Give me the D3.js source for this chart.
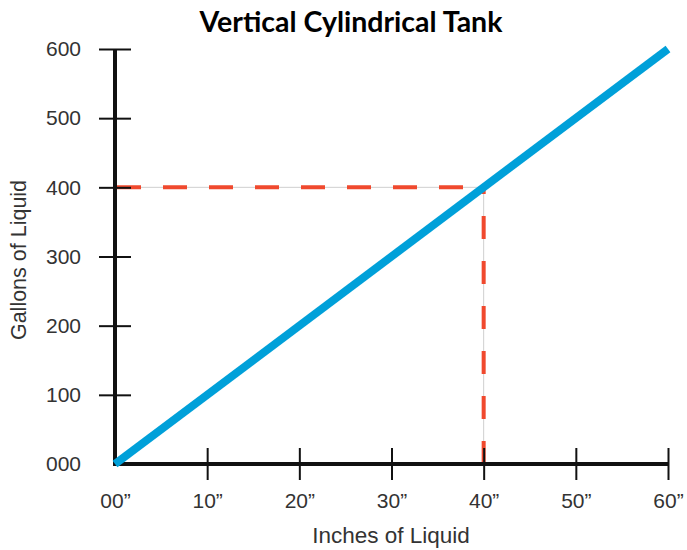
<html>
<head>
<style>
body { margin: 0; background: #fff; }
svg { display: block; }
.tick text { font-family: 'Liberation Sans', Arial, sans-serif; fill: #333; }
</style>
</head>
<body>
<svg width="687" height="550"></svg>
<script src="https://cdn.jsdelivr.net/npm/d3@7"></script>
<script>
// chart values
const xTicks = [0, 10, 20, 30, 40, 50, 60];
const xTickLabels = ["00\u201d", "10\u201d", "20\u201d", "30\u201d", "40\u201d", "50\u201d", "60\u201d"];
const yTicks = [0, 100, 200, 300, 400, 500, 600];
const yTickLabels = ["000", "100", "200", "300", "400", "500", "600"];
const lineInches = [0, 60];
const lineGallons = [0, 600];
const refInches = 40;
const refGallons = 400;

const svg = d3.select("svg");

const x = d3.scaleLinear().domain([0, 60]).range([115, 668]);
const y = d3.scaleLinear().domain([0, 600]).range([464, 49]);

// title
svg.append("text")
	.attr("x", 351).attr("y", 32)
	.attr("text-anchor", "middle")
	.style("font-family", "Lato, 'Open Sans', sans-serif")
	.style("font-weight", "bold")
	.style("font-size", "28.5px")
	.text("Vertical Cylindrical Tank");

// reference guide: thin grey line under red dashes
const guide = [[0, refGallons], [refInches, refGallons], [refInches, 0]];
svg.append("path")
	.attr("d", d3.line().x(d => x(d[0])).y(d => y(d[1]))(guide))
	.attr("fill", "none")
	.attr("stroke", "#cfcfcf")
	.attr("stroke-width", 1);

svg.append("line")
	.attr("x1", x(0) + 2).attr("x2", x(refInches))
	.attr("y1", y(refGallons)).attr("y2", y(refGallons))
	.attr("stroke", "#f0492e")
	.attr("stroke-width", 4)
	.attr("stroke-dasharray", "24,22");

svg.append("line")
	.attr("x1", x(refInches)).attr("x2", x(refInches))
	.attr("y1", y(0)).attr("y2", y(refGallons))
	.attr("stroke", "#f0492e")
	.attr("stroke-width", 4)
	.attr("stroke-dasharray", "23,22");

// y axis
const yAxis = svg.append("g")
	.attr("transform", "translate(" + x(0) + ",0)")
	.call(d3.axisLeft(y).tickValues(yTicks).tickFormat((d, i) => yTickLabels[i]).tickSize(16));
yAxis.select(".domain").remove();
yAxis.selectAll(".tick line")
	.attr("x1", -16).attr("x2", 16)
	.attr("stroke", "#111").attr("stroke-width", 2)
	.style("display", d => d === 0 ? "none" : null);
yAxis.selectAll(".tick text")
	.attr("x", -34)
	.style("font-size", "21px");

// x axis
const xAxis = svg.append("g")
	.attr("transform", "translate(0," + y(0) + ")")
	.call(d3.axisBottom(x).tickValues(xTicks).tickFormat((d, i) => xTickLabels[i]).tickSize(16));
xAxis.select(".domain").remove();
xAxis.selectAll(".tick line")
	.attr("y1", -16).attr("y2", 16)
	.attr("stroke", "#111").attr("stroke-width", 2)
	.style("display", d => d === 0 ? "none" : null);
xAxis.selectAll(".tick text")
	.attr("y", 44).attr("dy", 0)
	.style("font-size", "21px");

// axis lines
svg.append("line")
	.attr("x1", x(0)).attr("x2", x(0))
	.attr("y1", y(600)).attr("y2", y(0) + 2)
	.attr("stroke", "#111").attr("stroke-width", 4);
svg.append("line")
	.attr("x1", x(0) - 2).attr("x2", x(60) + 1)
	.attr("y1", y(0)).attr("y2", y(0))
	.attr("stroke", "#111").attr("stroke-width", 4);

// blue line
svg.append("path")
	.datum(lineInches.map((d, i) => [d, lineGallons[i]]))
	.attr("d", d3.line().x(d => x(d[0])).y(d => y(d[1])))
	.attr("fill", "none")
	.attr("stroke", "#00a0d9")
	.attr("stroke-width", 8);

// axis titles
svg.append("text")
	.attr("x", 391).attr("y", 543)
	.attr("text-anchor", "middle")
	.style("font-family", "'Liberation Sans', Arial, sans-serif")
	.style("font-size", "22.5px")
	.style("fill", "#333")
	.text("Inches of Liquid");

svg.append("text")
	.attr("transform", "translate(26,260) rotate(-90)")
	.attr("text-anchor", "middle")
	.style("font-family", "'Liberation Sans', Arial, sans-serif")
	.style("font-size", "21.5px")
	.style("fill", "#333")
	.text("Gallons of Liquid");
</script>
</body>
</html>
